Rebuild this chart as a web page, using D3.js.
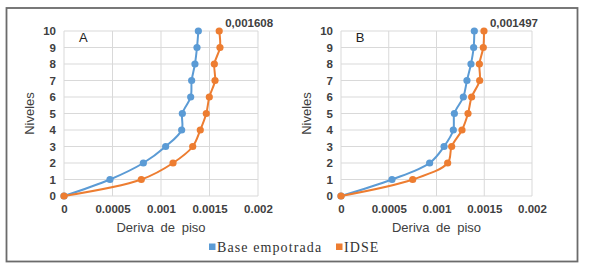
<!DOCTYPE html>
<html>
<head>
<meta charset="utf-8">
<script src="https://cdn.jsdelivr.net/npm/d3@7"></script>
<style>
html,body{margin:0;padding:0;background:#fff;}
svg{display:block;}
</style>
</head>
<body>
<svg id="chart" width="589" height="267"></svg>
<script>
const levels = [0,1,2,3,4,5,6,7,8,9,10];
const baseA = [0,0.000474,0.000818,0.001048,0.001213,0.00122,0.001306,0.001316,0.00135,0.001371,0.001385];
const idseA = [0,0.000797,0.001124,0.001327,0.001405,0.001467,0.001498,0.001557,0.00155,0.001608,0.0016];
const baseB = [0,0.000534,0.000928,0.001079,0.001176,0.001187,0.001281,0.001319,0.001361,0.001389,0.001396];
const idseB = [0,0.000751,0.001117,0.001159,0.001267,0.00133,0.001368,0.001452,0.001449,0.00149,0.001497];
const xTicks = [0,0.0005,0.001,0.0015,0.002];
const xTickLabels = ["0","0.0005","0.001","0.0015","0.002"];
const yTicks = [0,1,2,3,4,5,6,7,8,9,10];
const panels = ["A","B"];
const maxLabels = ["0,001608","0,001497"];
const seriesNames = ["Base empotrada","IDSE"];
const colors = ["#5B9BD5","#ED7D31"];

const svg = d3.select("#chart");
svg.append("rect").attr("x",6.5).attr("y",8).attr("width",571).attr("height",253.5)
  .attr("fill","#fff").attr("stroke","#6b6b6b").attr("stroke-width",1.8);

const panelGeom = [
  {x0:64, x1:258, y0:196, y1:31, ylab:29},
  {x0:341, x1:532, y0:196, y1:31, ylab:306}
];
const data = [[baseA,idseA],[baseB,idseB]];

panelGeom.forEach((g,pi)=>{
  const x = d3.scaleLinear().domain([0,0.002]).range([g.x0,g.x1]);
  const y = d3.scaleLinear().domain([0,10]).range([g.y0,g.y1]);
  const gp = svg.append("g");
  gp.append("g").selectAll("line").data(yTicks).join("line")
    .attr("x1",g.x0).attr("x2",g.x1).attr("y1",d=>y(d)).attr("y2",d=>y(d))
    .attr("stroke","#d9d9d9").attr("stroke-width",1);
  gp.append("g").selectAll("line").data(xTicks).join("line")
    .attr("y1",g.y0).attr("y2",g.y1).attr("x1",d=>x(d)).attr("x2",d=>x(d))
    .attr("stroke","#d9d9d9").attr("stroke-width",1);
  const xa = gp.append("g").attr("transform",`translate(0,${g.y0})`)
    .call(d3.axisBottom(x).tickValues(xTicks).tickFormat((d,i)=>xTickLabels[i]).tickSize(0).tickPadding(9));
  xa.select(".domain").remove();
  xa.selectAll("text").attr("font-family","Liberation Sans, Arial, sans-serif").attr("font-size",11.5)
    .attr("fill","#404040").attr("font-weight","bold");
  const ya = gp.append("g").attr("transform",`translate(${g.x0},0)`)
    .call(d3.axisLeft(y).tickValues(yTicks).tickFormat(d3.format("d")).tickSize(0).tickPadding(8));
  ya.select(".domain").remove();
  ya.selectAll("text").attr("font-family","Liberation Sans, Arial, sans-serif").attr("font-size",11.5)
    .attr("fill","#404040").attr("font-weight","bold");
  gp.append("text").attr("x",(g.x0+g.x1)/2).attr("y",232).attr("text-anchor","middle")
    .attr("font-family","Liberation Sans, Arial, sans-serif").attr("font-size",13).attr("fill","#404040")
    .attr("word-spacing",3).text("Deriva de piso");
  gp.append("text").attr("transform",`translate(${g.ylab},${(g.y0+g.y1)/2}) rotate(-90)`)
    .attr("text-anchor","middle").attr("dy","0.35em")
    .attr("font-family","Liberation Sans, Arial, sans-serif").attr("font-size",13).attr("fill","#404040")
    .text("Niveles");
  gp.append("text").attr("x",x(0.0002)).attr("y",y(9.35)).attr("text-anchor","middle")
    .attr("font-family","Liberation Sans, Arial, sans-serif").attr("font-size",13).attr("fill","#222")
    .text(panels[pi]);
  const line = d3.line().x(d=>x(d[0])).y(d=>y(d[1])).curve(d3.curveCatmullRom.alpha(0.5));
  data[pi].forEach((vals,si)=>{
    const pts = vals.map((v,i)=>[v,levels[i]]);
    gp.append("path").attr("d",line(pts)).attr("fill","none").attr("stroke",colors[si]).attr("stroke-width",2);
    gp.append("g").selectAll("circle").data(pts).join("circle")
      .attr("cx",d=>x(d[0])).attr("cy",d=>y(d[1])).attr("r",3.6).attr("fill",colors[si]);
  });
  const top = data[pi][1][10];
  gp.append("text").attr("x",x(top)+6).attr("y",27)
    .attr("font-family","Liberation Sans, Arial, sans-serif").attr("font-size",11.5).attr("font-weight","bold")
    .attr("fill","#404040").text(maxLabels[pi]);
});

const leg = svg.append("g").attr("font-family","Liberation Serif, Times New Roman, serif").attr("font-size",14).attr("fill","#333");
const legX = [209, 336];
seriesNames.forEach((n,i)=>{
  leg.append("rect").attr("x",legX[i]).attr("y",243.5).attr("width",6.5).attr("height",6.5).attr("fill",colors[i]);
  leg.append("text").attr("x",legX[i]+8).attr("y",251.5).attr("letter-spacing",1.1).attr("fill","#333").text(n);
});
</script>
</body>
</html>
